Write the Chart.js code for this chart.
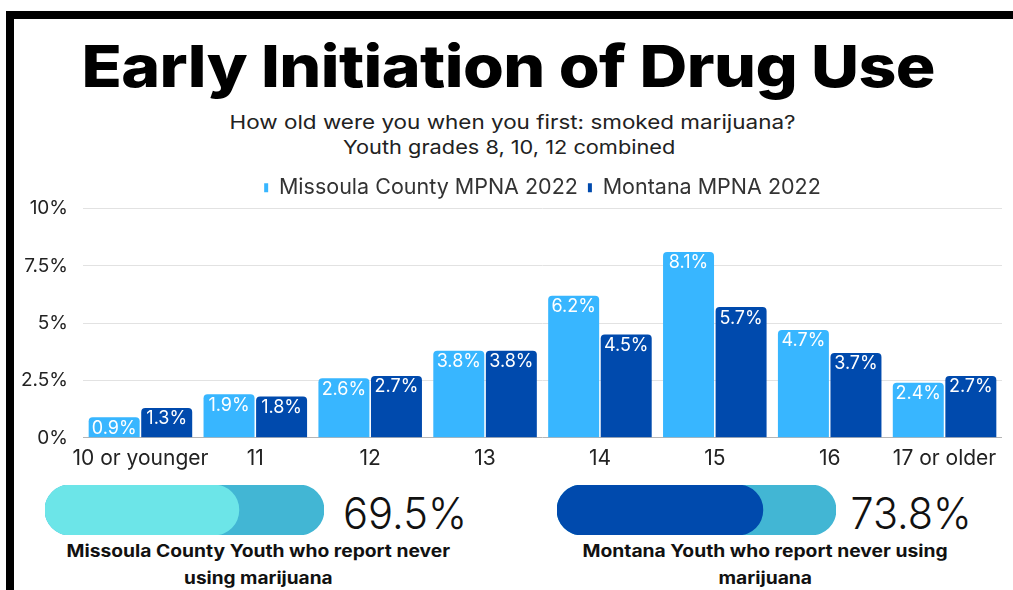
<!DOCTYPE html>
<html>
<head>
<meta charset="utf-8">
<script src="https://cdn.jsdelivr.net/npm/chart.js@4.4.1/dist/chart.umd.min.js"></script>
<style>
  html, body { margin: 0; padding: 0; background: #fff; }
  body { width: 1013px; height: 590px; position: relative; overflow: hidden; font-family: Inter, "Noto Sans", sans-serif; }
  .frame { position: absolute; left: 6px; top: 11px; width: 1100px; height: 700px;
           border-left: 8px solid #000; border-top: 8px solid #000; }
  .txt { position: absolute; white-space: nowrap; line-height: 1; transform-origin: center center; }
  #title { font-weight: 800; font-size: 58px; color: #000; letter-spacing: -0.5px; }
  .sub { font-size: 19px; color: #222; }
  .big { font-size: 43px; font-weight: 300; color: #111; }
  .cap { font-size: 17px; font-weight: 700; color: #111; }
  .box { position: absolute; }
</style>
</head>
<body>
<div class="frame"></div>

<div class="txt" id="title" data-cx="508" data-cy="66" data-w="853">Early Initiation of Drug Use</div>
<div class="txt sub" data-cx="512" data-cy="122" data-w="566">How old were you when you first: smoked marijuana?</div>
<div class="txt sub" data-cx="509" data-cy="147" data-w="332">Youth grades 8, 10, 12 combined</div>

<div class="box" id="chartBox" style="left:0;top:167px;width:1013px;height:312px;"><canvas id="bars"></canvas></div>

<div class="box" style="left:45px;top:485px;width:279px;height:50px;"><canvas id="meterA"></canvas></div>
<div class="box" style="left:557px;top:485px;width:279px;height:50px;"><canvas id="meterB"></canvas></div>

<div class="txt big" id="valA" data-cx="405" data-cy="513" data-w="124"></div>
<div class="txt big" id="valB" data-cx="911" data-cy="513" data-w="121"></div>

<div class="txt cap" data-cx="258" data-cy="551" data-w="384">Missoula County Youth who report never</div>
<div class="txt cap" data-cx="258" data-cy="578" data-w="149">using marijuana</div>
<div class="txt cap" data-cx="765" data-cy="551" data-w="365">Montana Youth who report never using</div>
<div class="txt cap" data-cx="765" data-cy="578" data-w="94">marijuana</div>

<script>
/* ========= Daten ========= */
const ageGroups = ["10 or younger", "11", "12", "13", "14", "15", "16", "17 or older"];
const missoulaValues = [0.9, 1.9, 2.6, 3.8, 6.2, 8.1, 4.7, 2.4];
const montanaValues  = [1.3, 1.8, 2.7, 3.8, 4.5, 5.7, 3.7, 2.7];
const seriesNames = ["Missoula County MPNA 2022", "Montana MPNA 2022"];
const yTicks = [0, 2.5, 5, 7.5, 10];

const neverUsedMissoula = 69.5;
const neverUsedMontana = 73.8;

const LIGHT = "#38B6FF";
const DARK = "#004AAD";
const FONT = "Inter, 'Noto Sans', sans-serif";

/* ========= Text helper ========= */
function placeTexts() {
  document.getElementById("valA").textContent = neverUsedMissoula.toFixed(1) + "%";
  document.getElementById("valB").textContent = neverUsedMontana.toFixed(1) + "%";
  document.querySelectorAll(".txt").forEach(el => {
    const cx = +el.dataset.cx, cy = +el.dataset.cy, target = +el.dataset.w;
    const w = el.offsetWidth, h = el.offsetHeight;
    const s = target ? target / w : 1;
    el.style.left = (cx - w / 2) + "px";
    el.style.top = (cy - h / 2) + "px";
    el.style.transform = `scaleX(${s})`;
  });
}

/* ========= Bar labels ========= */
const barLabels = {
  id: "barLabels",
  afterDatasetsDraw(chart) {
    const ctx = chart.ctx;
    ctx.save();
    ctx.font = `18px ${FONT}`;
    ctx.fillStyle = "#fff";
    ctx.textAlign = "center";
    ctx.textBaseline = "middle";
    chart.data.datasets.forEach((ds, i) => {
      chart.getDatasetMeta(i).data.forEach((bar, j) => {
        ctx.fillText(ds.data[j].toFixed(1) + "%", bar.x, bar.y + 11);
      });
    });
    ctx.restore();
  }
};

/* etwas mehr Luft unter der Legende */
const legendGap = {
  id: "legendGap",
  beforeLayout(chart) {
    if (chart.legend && !chart.legend._gapSet) {
      chart.legend.afterFit = function () { this.height += 5; };
      chart.legend._gapSet = true;
    }
  }
};

/* ========= Main chart ========= */
function renderBars() {
  new Chart(document.getElementById("bars"), {
    type: "bar",
    data: {
      labels: ageGroups,
      datasets: [
        { label: seriesNames[0], data: missoulaValues, backgroundColor: LIGHT },
        { label: seriesNames[1], data: montanaValues, backgroundColor: DARK }
      ]
    },
    options: {
      responsive: true,
      maintainAspectRatio: false,
      animation: false,
      layout: { padding: { left: 0, right: 11, top: 0, bottom: 0 } },
      datasets: {
        bar: {
          categoryPercentage: 0.915,
          barPercentage: 0.97,
          borderRadius: { topLeft: 4, topRight: 4 },
          borderSkipped: "bottom"
        }
      },
      plugins: {
        legend: {
          position: "top",
          fullSize: false,
          labels: {
            color: "#333",
            font: { family: FONT, size: 21.5 },
            boxWidth: 4,
            boxHeight: 9,
            padding: 10
          }
        },
        tooltip: { enabled: false }
      },
      scales: {
        x: {
          grid: { display: false, drawTicks: false },
          border: { display: false },
          ticks: {
            color: "#222",
            font: { family: FONT, size: 21 },
            padding: 8,
            maxRotation: 0,
            minRotation: 0,
            autoSkip: false
          }
        },
        y: {
          min: 0,
          max: 10,
          afterBuildTicks: s => { s.ticks = yTicks.map(v => ({ value: v })); },
          afterFit: s => { s.width = 83; },
          border: { display: false },
          grid: {
            drawTicks: false,
            color: c => c.tick && c.tick.value === 0 ? "#b5b5b5" : "#e2e2e2"
          },
          ticks: {
            color: "#222",
            font: { family: FONT, size: 19 },
            padding: 15,
            callback: v => v + "%"
          }
        }
      }
    },
    plugins: [barLabels, legendGap]
  });
}

/* ========= Meter bars ========= */
function renderMeter(id, value, fillColor) {
  new Chart(document.getElementById(id), {
    type: "bar",
    data: {
      labels: [""],
      datasets: [
        { data: [[0, value]], backgroundColor: fillColor, borderRadius: 25, borderSkipped: false },
        { data: [[0, 100]], backgroundColor: "#42B6D4", borderRadius: 25, borderSkipped: false }
      ]
    },
    options: {
      indexAxis: "y",
      responsive: true,
      maintainAspectRatio: false,
      animation: false,
      layout: { padding: 0 },
      datasets: { bar: { grouped: false, barPercentage: 1, categoryPercentage: 1 } },
      plugins: { legend: { display: false }, tooltip: { enabled: false } },
      scales: {
        x: { display: false, min: 0, max: 100 },
        y: { display: false }
      }
    }
  });
}

/* ========= Start ========= */
document.fonts.ready.then(() => {
  placeTexts();
  renderBars();
  renderMeter("meterA", neverUsedMissoula, "#6CE5E8");
  renderMeter("meterB", neverUsedMontana, DARK);
});
</script>
</body>
</html>
